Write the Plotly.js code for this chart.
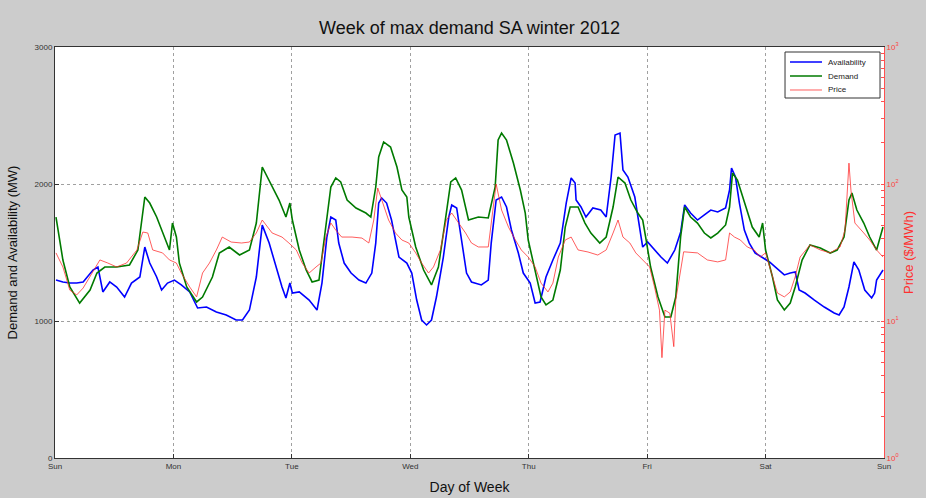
<!DOCTYPE html>
<html>
<head>
<meta charset="utf-8">
<script src="https://cdn.plot.ly/plotly-3.0.1.min.js"></script>
<style>html,body{margin:0;padding:0;background:#cccccc;}#chart{width:926px;height:498px;}</style>
</head>
<body>
<div id="chart"></div>
<script>
// Time in hours from Sunday 00:00
const dayLabels = ['Sun','Mon','Tue','Wed','Thu','Fri','Sat','Sun'];
const dayTicks = [0,24,48,72,96,120,144,168];

const availHours = [0.2,1.6,3.0,4.4,5.7,7.7,8.7,9.7,11.1,12.5,14.1,15.5,17.2,18.2,19.2,20.6,21.6,22.8,
  24.2,25.6,27.3,28.9,30.7,32.7,34.7,36.7,38.0,39.4,40.8,42.0,43.4,44.8,46.0,46.8,47.6,
  48.1,49.5,51.5,53.1,54.1,55.1,55.9,56.9,57.5,58.6,60.0,61.6,63.0,64.2,65.0,65.6,66.2,67.2,68.2,69.7,71.3,
  72.3,73.3,74.3,75.3,76.3,77.3,78.7,79.8,80.4,81.4,82.4,83.4,84.4,86.4,87.8,88.4,89.4,90.5,91.5,92.5,93.9,94.9,
  96.3,97.3,98.3,99.5,100.9,102.4,103.6,104.6,105.4,105.6,106.6,107.6,109.0,110.6,111.7,112.7,113.5,114.5,115.1,116.1,117.5,118.5,119.1,
  120.1,121.5,122.8,124.1,125.6,126.8,127.6,128.8,130.2,131.6,132.9,134.3,135.9,136.7,137.1,137.9,138.7,139.7,140.7,141.9,143.4,
  144.8,146.0,147.8,149.0,150.0,150.8,152.0,153.9,155.9,157.9,158.9,159.9,160.9,161.9,162.9,164.1,165.5,166.1,166.5,167.8];
const availMW = [1299,1285,1277,1277,1285,1372,1394,1212,1285,1248,1175,1277,1321,1540,1423,1321,1226,1277,
  1299,1263,1212,1095,1102,1066,1044,1007,1007,1080,1321,1700,1569,1394,1248,1168,1277,
  1204,1212,1153,1080,1277,1613,1759,1737,1569,1423,1350,1299,1277,1350,1569,1861,1898,1861,1737,1467,1423,
  1350,1153,1007,971,1007,1175,1467,1759,1847,1825,1569,1350,1285,1263,1299,1569,1883,1905,1832,1664,1496,1350,
  1277,1131,1139,1321,1445,1569,1861,2044,2007,1883,1832,1759,1825,1810,1759,2051,2358,2372,2102,2051,1905,1686,1540,
  1577,1518,1467,1423,1518,1650,1847,1788,1737,1774,1810,1796,1825,1956,2117,2051,1861,1664,1569,1496,1460,
  1431,1394,1336,1350,1358,1226,1204,1153,1102,1058,1044,1102,1248,1431,1372,1226,1168,1204,1299,1372];

const demandHours = [0.2,1.6,3.0,5.0,7.1,8.5,10.1,12.5,15.1,16.8,18.2,19.2,20.6,22.2,23.2,23.8,
  24.6,25.2,26.7,28.7,29.9,31.9,33.3,35.3,37.4,39.4,40.8,42.0,43.4,45.4,46.8,47.6,
  48.1,49.5,50.9,52.1,53.5,54.9,55.9,56.9,57.9,59.2,61.0,63.0,64.0,65.0,65.6,66.6,68.0,69.3,70.3,71.3,71.7,
  73.1,74.7,76.3,77.7,79.1,80.2,81.2,82.4,83.8,85.8,87.8,89.2,89.8,90.5,91.5,92.9,94.3,95.3,95.9,
  97.3,98.5,99.5,100.9,102.4,103.4,104.4,106.0,107.4,108.6,110.4,111.7,113.1,114.1,115.5,116.7,118.1,119.1,119.7,
  120.7,122.2,123.6,124.8,125.8,126.8,127.6,128.8,130.2,131.6,132.9,134.3,135.9,136.7,137.3,138.3,139.7,141.3,142.7,143.4,
  144.0,145.4,146.4,147.8,149.0,150.0,151.4,153.0,155.1,157.1,158.5,159.9,160.9,161.5,162.5,163.9,165.1,166.5,167.8];
const demandMW = [1759,1445,1248,1131,1226,1350,1394,1394,1409,1518,1905,1861,1759,1613,1518,1715,
  1613,1423,1248,1139,1175,1321,1496,1540,1482,1518,1715,2124,2029,1883,1759,1861,
  1737,1518,1372,1285,1299,1715,1978,2044,2015,1883,1825,1788,1759,1978,2197,2307,2270,2124,1956,1905,1759,
  1540,1372,1263,1394,1737,2015,2044,1956,1737,1759,1752,1978,2321,2372,2321,2153,1956,1788,1591,
  1372,1175,1117,1153,1372,1686,1832,1832,1715,1642,1569,1613,1832,2051,2007,1883,1788,1737,1613,
  1394,1175,1029,1029,1175,1620,1832,1759,1715,1642,1606,1642,1701,1832,2080,2029,1861,1686,1613,1715,
  1518,1321,1153,1080,1131,1248,1445,1555,1533,1496,1518,1613,1883,1934,1810,1715,1613,1518,1686];

const priceHours = [0.2,1.6,3.0,4.4,5.7,7.5,9.1,10.7,12.5,14.5,16.6,17.8,18.8,19.8,21.8,23.2,
  24.6,25.6,27.3,28.7,29.9,31.3,32.7,33.9,35.7,37.8,39.4,40.8,42.0,44.0,46.0,47.4,
  48.9,50.1,51.5,52.9,53.9,54.9,55.9,56.9,58.1,60.2,62.2,63.6,64.6,65.4,66.2,67.6,69.0,70.3,71.7,
  73.1,74.3,75.7,76.7,78.1,79.3,80.4,81.8,83.2,84.4,85.8,87.8,88.8,89.4,90.5,91.9,93.3,94.5,95.9,
  97.3,98.5,99.9,100.9,102.0,103.4,104.6,106.0,108.0,110.0,111.7,113.1,114.1,115.1,116.5,117.7,119.1,
  120.5,121.5,122.5,123.0,123.6,124.6,125.4,125.8,126.8,127.4,130.2,132.2,134.3,135.9,136.7,137.7,138.9,140.3,141.7,142.9,
  144.0,145.4,146.4,147.8,149.0,150.0,151.0,153.0,155.1,157.1,159.1,160.1,160.9,161.3,162.1,163.9,165.1,166.5,167.8];
const priceMWh = [31.4,24.8,16.8,15.5,17.4,22.4,27.9,26.5,24.8,26.5,33,44.6,43.9,33,31.4,27.9,
  26.5,22.4,17.7,15,22.4,26.5,33,41,37.7,37.1,37.7,43.9,54.6,43.9,41,37.1,
  33,26.5,22.4,24.8,26.5,41,51.9,46.1,41,41,40.3,37.1,54.6,93.5,76.4,54.6,43.9,39,37.1,
  31.4,26.5,22.4,24.8,33,54.6,61.4,51.9,43.9,37.1,34.7,34.7,64.6,100,64.6,48.5,39,33,29.3,
  24.8,18.9,16.3,18.9,29.3,39,41,33,31.9,30.3,33,43.9,54.6,41,37.1,31.4,27.9,
  24.8,17.7,12,5.4,12,11.4,6.5,14.2,24.8,32,31.4,27.9,27,27.9,43.9,41,39,34.7,33,29.3,
  31.4,21,16,15,16.3,21,29.3,35.9,33,31.4,34.7,46.1,142,90,51.9,43.9,39,33,29.3];

// log axis ticks: decades labelled, intermediate ticks unlabelled
const priceTickVals = [1,2,3,4,5,6,7,8,9,10,20,30,40,50,60,70,80,90,100,200,300,400,500,600,700,800,900,1000];
const priceTickText = priceTickVals.map(v => ({1:'10<sup>0</sup>',10:'10<sup>1</sup>',100:'10<sup>2</sup>',1000:'10<sup>3</sup>'}[v] || ''));

const traces = [
  {x: availHours, y: availMW, name: 'Availability', type: 'scatter', mode: 'lines',
   line: {color: '#0000ff', width: 1.6}, showlegend: false},
  {x: demandHours, y: demandMW, name: 'Demand', type: 'scatter', mode: 'lines',
   line: {color: '#007a00', width: 1.6}, showlegend: false},
  {x: priceHours, y: priceMWh, name: 'Price', type: 'scatter', mode: 'lines', yaxis: 'y2',
   line: {color: 'rgba(255,40,40,0.75)', width: 1}, showlegend: false}
];

// compact legend box (MATLAB-style) built from the traces
const shapes = [{type: 'rect', xref: 'paper', yref: 'paper', x0: 0.8806, x1: 0.9952, y0: 0.8759, y1: 0.9878,
                 line: {color: '#333', width: 1}, fillcolor: '#ffffff', layer: 'above'}];
const annotations = [];
const legendRows = [0.9635, 0.9294, 0.8954];
traces.forEach((t, i) => {
  shapes.push({type: 'line', xref: 'paper', yref: 'paper', x0: 0.8866, x1: 0.9252,
               y0: legendRows[i], y1: legendRows[i], line: {color: t.line.color, width: t.line.width}, layer: 'above'});
  annotations.push({xref: 'paper', yref: 'paper', x: 0.930, y: legendRows[i], xanchor: 'left', yanchor: 'middle',
                    text: t.name, showarrow: false, font: {size: 8, color: '#222'}});
});

const font = 'Liberation Sans, Arial, sans-serif';
const layout = {
  width: 926, height: 498,
  paper_bgcolor: '#cccccc', plot_bgcolor: '#ffffff',
  margin: {l: 55, r: 42, t: 47, b: 40, pad: 0},
  font: {family: font, color: '#222'},
  showlegend: false,
  shapes: shapes, annotations: annotations,
  title: {text: 'Week of max demand SA winter 2012', font: {size: 18, family: font, color: '#111'},
          x: 0.5, xref: 'paper', xanchor: 'center', y: 0.944, yref: 'container', yanchor: 'middle'},
  xaxis: {range: [0, 168], tickvals: dayTicks, ticktext: dayLabels,
          showgrid: true, gridcolor: '#a0a0a0', griddash: 'dot', gridwidth: 1,
          ticks: 'inside', ticklen: 4, tickcolor: '#333', tickfont: {size: 8, color: '#333'},
          showline: true, linecolor: '#333', linewidth: 1, mirror: true, zeroline: false,
          title: {text: 'Day of Week', font: {size: 14, color: '#111'}, standoff: 12}},
  yaxis: {range: [0, 3000], tickvals: [0,1000,2000,3000],
          showgrid: true, gridcolor: '#a0a0a0', griddash: 'dot', gridwidth: 1,
          ticks: 'inside', ticklen: 4, tickcolor: '#333', tickfont: {size: 8, color: '#333'},
          showline: true, linecolor: '#333', linewidth: 1, zeroline: false,
          title: {text: 'Demand and Availability (MW)', font: {size: 13, color: '#111'}, standoff: 14}},
  yaxis2: {type: 'log', range: [0, 3], overlaying: 'y', side: 'right',
           tickvals: priceTickVals, ticktext: priceTickText,
           showgrid: false, zeroline: false,
           ticks: 'inside', ticklen: 3, tickcolor: '#ff5050', tickfont: {size: 8, color: '#ff4040'},
           showline: true, linecolor: '#ff5050', linewidth: 1,
           title: {text: 'Price ($/MWh)', font: {size: 13, color: '#ff3030'}, standoff: 6}}
};

Plotly.newPlot('chart', traces, layout, {displayModeBar: false, staticPlot: true});
</script>
</body>
</html>
